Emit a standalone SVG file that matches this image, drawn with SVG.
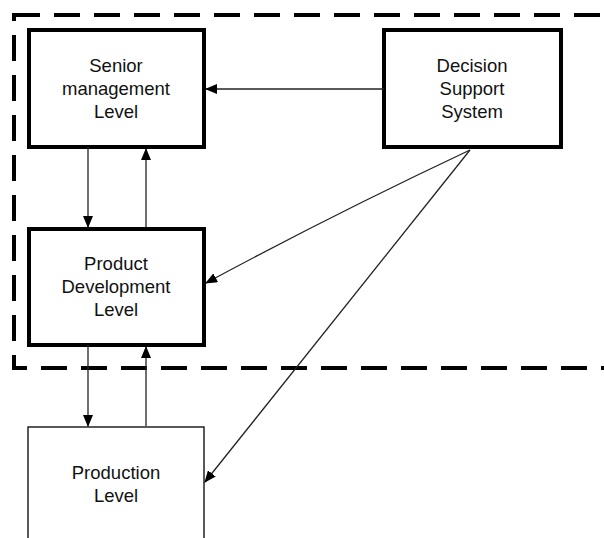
<svg xmlns="http://www.w3.org/2000/svg" width="604" height="538" viewBox="0 0 604 538">
<style>
.thick{fill:#fff;stroke:#000;stroke-width:4}
.thin{fill:#fff;stroke:#000;stroke-width:1.3}
.lbl{font-family:"Liberation Sans",Arial,sans-serif;font-size:18.5px;fill:#111;text-anchor:middle}
.con{fill:none;stroke:#222;stroke-width:1.3;marker-end:url(#ah)}
</style>
<defs>
<marker id="ah" markerWidth="12" markerHeight="10" refX="11" refY="5" orient="auto" markerUnits="userSpaceOnUse">
<path d="M0,0 L12,5 L0,10 Z" fill="#000"/>
</marker>
</defs>
<rect x="14" y="15" width="610" height="353" fill="none" stroke="#000" stroke-width="4" stroke-dasharray="26,14"/>
<g id="senior">
<rect class="thick" x="29" y="30" width="175" height="117"/>
<text class="lbl" x="116" y="72">Senior</text>
<text class="lbl" x="116" y="95">management</text>
<text class="lbl" x="116" y="118">Level</text>
</g>
<g id="dss">
<rect class="thick" x="384" y="30" width="177" height="117"/>
<text class="lbl" x="472" y="72">Decision</text>
<text class="lbl" x="472" y="95">Support</text>
<text class="lbl" x="472" y="118">System</text>
</g>
<g id="product">
<rect class="thick" x="29" y="229" width="175" height="116"/>
<text class="lbl" x="116" y="270">Product</text>
<text class="lbl" x="116" y="293">Development</text>
<text class="lbl" x="116" y="316">Level</text>
</g>
<g id="production">
<rect class="thin" x="28" y="427" width="176" height="130"/>
<text class="lbl" x="116" y="479">Production</text>
<text class="lbl" x="116" y="502">Level</text>
</g>
<g id="connectors">
<line class="con" x1="88" y1="147" x2="88" y2="227"/>
<line class="con" x1="146" y1="227" x2="146" y2="149"/>
<line class="con" x1="88" y1="345" x2="88" y2="426"/>
<line class="con" x1="146" y1="426" x2="146" y2="347"/>
<line class="con" x1="384" y1="89" x2="206" y2="89"/>
<path class="con" d="M470,150 Q330,216 206,283"/>
<line class="con" x1="470" y1="150" x2="205" y2="482"/>
</g>
</svg>
